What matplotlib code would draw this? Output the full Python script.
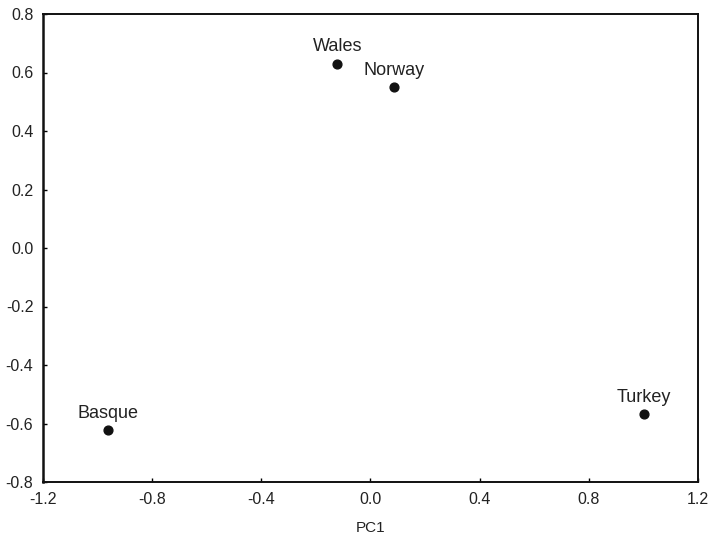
import matplotlib
matplotlib.use("Agg")
import matplotlib.pyplot as plt

plt.rcParams['font.family'] = ['Liberation Sans', 'DejaVu Sans']

countries = ["Basque", "Wales", "Norway", "Turkey"]
pc1 = [-0.963, -0.122, 0.086, 1.003]
pc2 = [-0.622, 0.630, 0.550, -0.567]
x_ticks = [-1.2, -0.8, -0.4, 0.0, 0.4, 0.8, 1.2]
y_ticks = [-0.8, -0.6, -0.4, -0.2, 0.0, 0.2, 0.4, 0.6, 0.8]

fig = plt.figure(figsize=(7.13, 5.43), dpi=100)
ax = fig.add_axes([43 / 713, 1 - 482 / 543, 655 / 713, 468 / 543])

ax.scatter(pc1, pc2, s=40, color="#111111", zorder=3)
for name, x, y in zip(countries, pc1, pc2):
    ax.annotate(name, (x, y), xytext=(0, 6), textcoords="offset points",
                ha="center", va="bottom", fontsize=13, color="#222222")

ax.set_xlim(-1.2, 1.2)
ax.set_ylim(-0.8, 0.8)
ax.set_xticks(x_ticks)
ax.set_yticks(y_ticks)
ax.set_xticklabels([f"{v:.1f}" for v in x_ticks])
ax.set_yticklabels([f"{v:.1f}" for v in y_ticks])
ax.tick_params(direction="in", length=3, width=1, labelsize=11.5,
               labelcolor="#222222", pad=7)
for side, sp in ax.spines.items():
    sp.set_linewidth(1.8 if side == "left" else 1.4)
    sp.set_color("#111111")
ax.set_xlabel("PC1", fontsize=11, color="#222222", labelpad=10)

fig.savefig("out.png", dpi=100)
